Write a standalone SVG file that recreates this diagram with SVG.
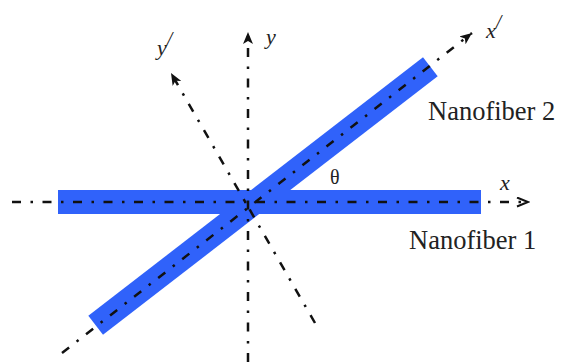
<svg xmlns="http://www.w3.org/2000/svg" width="562" height="362" viewBox="0 0 562 362">
<style>
.fiber{fill:#3062fa;}
.axis{stroke:#111;stroke-width:2.5;fill:none;stroke-dasharray:9 9.5 2.5 9.5;}
.lbl{font-family:"Liberation Serif","Times New Roman",serif;fill:#222;}
.ax{font-family:"Liberation Serif","Times New Roman",serif;font-style:italic;fill:#222;font-size:22px;}
</style>
<defs>
<marker id="dart" markerUnits="userSpaceOnUse" markerWidth="14" markerHeight="12" refX="12" refY="5" orient="auto">
<path d="M0,0 L12,5 L0,10 L3,5 z" fill="#111"/>
</marker>
<marker id="open" markerUnits="userSpaceOnUse" markerWidth="14" markerHeight="12" refX="12" refY="5" orient="auto">
<path d="M1,0.5 L12,5 L1,9.5" fill="none" stroke="#111" stroke-width="2"/>
</marker>
</defs>
<g id="nanofiber2">
<rect class="fiber" x="51.5" y="184" width="423" height="24" transform="rotate(-37.7 263 196)"/>
<text class="lbl" x="428" y="120" font-size="26.5">Nanofiber 2</text>
</g>
<g id="nanofiber1">
<rect class="fiber" x="58" y="190" width="423" height="24"/>
<text class="lbl" x="409" y="249" font-size="26.5">Nanofiber 1</text>
</g>
<g id="connectors">
<line id="x-axis" class="axis" x1="12" y1="202" x2="528" y2="202" marker-end="url(#open)"/>
<line id="y-axis" class="axis" x1="248" y1="362" x2="248" y2="32" marker-end="url(#dart)"/>
<line id="xp-axis" class="axis" x1="62" y1="353" x2="472" y2="33" marker-end="url(#dart)"/>
<line id="yp-axis" class="axis" x1="315" y1="323" x2="171" y2="73" marker-end="url(#dart)"/>
</g>
<g id="labels">
<text class="ax" x="500" y="190">x</text>
<text class="ax" x="266" y="44">y</text>
<text class="ax" x="486" y="38">x<tspan font-size="20" dy="-9">/</tspan></text>
<text class="ax" x="157" y="55">y<tspan font-size="20" dy="-9">/</tspan></text>
<text class="lbl" x="330" y="184" font-size="20" font-family="Liberation Sans, Arial, sans-serif">θ</text>
</g>
</svg>
